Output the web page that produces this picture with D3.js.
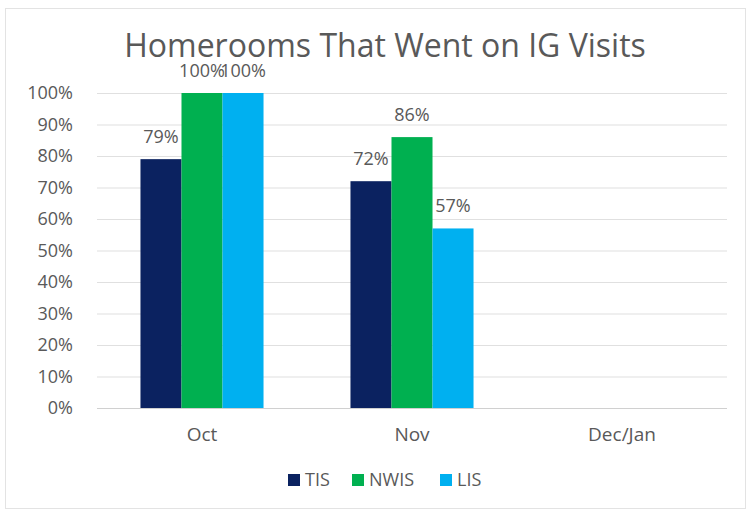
<!DOCTYPE html>
<html>
<head>
<meta charset="utf-8">
<script src="https://cdn.jsdelivr.net/npm/d3@7"></script>
<style>
  body { margin: 0; background: #fff; }
  text { font-family: "Open Sans", Lato, sans-serif; fill: #595959; }
</style>
</head>
<body>
<svg id="chart" width="751" height="515"></svg>
<script>
const categories = ["Oct", "Nov", "Dec/Jan"];
const seriesNames = ["TIS", "NWIS", "LIS"];
const tisValues = [0.79, 0.72, null];
const nwisValues = [1.00, 0.86, null];
const lisValues = [1.00, 0.57, null];
const yTicks = [0, 0.1, 0.2, 0.3, 0.4, 0.5, 0.6, 0.7, 0.8, 0.9, 1.0];
const colors = ["#0b2260", "#00b050", "#00b0f0"];

const svg = d3.select("#chart");
const margin = { left: 97, right: 24, top: 93, bottom: 107 };
const width = 751, height = 515;

// chart frame
svg.append("rect")
  .attr("x", 5.5).attr("y", 8.5)
  .attr("width", 740).attr("height", 500)
  .attr("fill", "none")
  .attr("stroke", "#e3e3e3");

const x0 = d3.scaleBand()
  .domain(categories)
  .range([margin.left, width - margin.right]);

const x1 = d3.scaleBand()
  .domain(seriesNames)
  .range([0, x0.bandwidth()])
  .paddingOuter(1.06);

const y = d3.scaleLinear()
  .domain([0, 1])
  .range([height - margin.bottom, margin.top]);

// gridlines
svg.append("g")
  .selectAll("line")
  .data(yTicks)
  .join("line")
  .attr("x1", margin.left).attr("x2", width - margin.right)
  .attr("y1", d => y(d) + 0.5).attr("y2", d => y(d) + 0.5)
  .attr("stroke", d => d === 0 ? "#d0d0d0" : "#e0e0e0")
  .attr("stroke-width", 1.2);

// y labels
svg.append("g")
  .selectAll("text")
  .data(yTicks)
  .join("text")
  .attr("x", 73)
  .attr("y", d => y(d))
  .attr("dy", "0.35em")
  .attr("text-anchor", "end")
  .style("font-size", "18px")
  .text(d3.format(".0%"));

// x labels
svg.append("g")
  .selectAll("text")
  .data(categories)
  .join("text")
  .attr("x", d => x0(d) + x0.bandwidth() / 2)
  .attr("y", 441)
  .attr("text-anchor", "middle")
  .style("font-size", "19px")
  .text(d => d);

const table = seriesNames.map((s, i) => ({
  name: s,
  color: colors[i],
  values: [tisValues, nwisValues, lisValues][i]
}));

const groups = svg.append("g")
  .selectAll("g")
  .data(table)
  .join("g")
  .attr("fill", d => d.color);

const points = d => d.values
  .map((v, j) => ({ name: d.name, cat: categories[j], v }))
  .filter(e => e.v !== null);

groups.selectAll("rect")
  .data(points)
  .join("rect")
  .attr("x", e => x0(e.cat) + x1(e.name))
  .attr("width", x1.bandwidth())
  .attr("y", e => y(e.v))
  .attr("height", e => y(0) - y(e.v));

groups.selectAll("text")
  .data(points)
  .join("text")
  .attr("x", e => x0(e.cat) + x1(e.name) + x1.bandwidth() / 2)
  .attr("y", e => y(e.v) - 16)
  .attr("text-anchor", "middle")
  .style("font-size", "18px")
  .text(e => d3.format(".0%")(e.v));

// title
svg.append("text")
  .attr("x", 385)
  .attr("y", 57)
  .attr("text-anchor", "middle")
  .style("font-size", "32px")
  .text("Homerooms That Went on IG Visits");

// legend
const legendX = [288, 352, 440];
const legend = svg.append("g")
  .selectAll("g")
  .data(table)
  .join("g")
  .attr("transform", (d, i) => `translate(${legendX[i]},474)`);
legend.append("rect")
  .attr("width", 12).attr("height", 12)
  .attr("fill", d => d.color);
legend.append("text")
  .attr("x", 17).attr("y", 12)
  .style("font-size", "18px")
  .text(d => d.name);
</script>
</body>
</html>
